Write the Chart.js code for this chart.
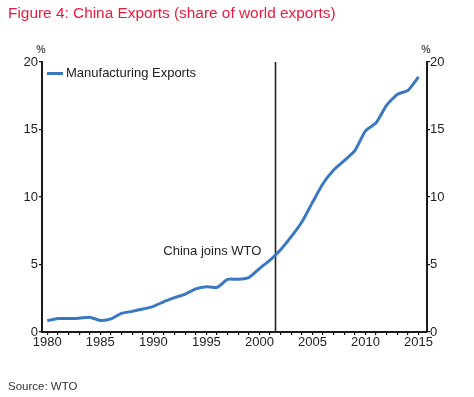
<!DOCTYPE html>
<html><head><meta charset="utf-8">
<script src="https://cdn.jsdelivr.net/npm/chart.js@4"></script>
<style>
html,body{margin:0;padding:0;background:#fff;width:474px;height:397px;overflow:hidden;font-family:"Liberation Sans",Arial,sans-serif}
#wrap{position:absolute;left:0;top:0;width:474px;height:397px}
#title{position:absolute;left:8px;top:5px;font-size:15.4px;line-height:16px;color:#e8193c;white-space:nowrap}
#source{position:absolute;left:8px;top:380px;font-size:11.5px;line-height:12px;color:#333;white-space:nowrap}
</style></head><body>
<div id="wrap"><canvas id="c" width="474" height="397"></canvas></div>
<div id="title">Figure 4: China Exports (share of world exports)</div>
<div id="source">Source: WTO</div>
<script>
const years = [1980,1981,1982,1983,1984,1985,1986,1987,1988,1989,1990,1991,1992,1993,1994,1995,1996,1997,1998,1999,2000,2001,2002,2003,2004,2005,2006,2007,2008,2009,2010,2011,2012,2013,2014,2015];
const manufacturingExports = [0.84,1.0,1.0,1.02,1.1,0.86,0.97,1.38,1.53,1.7,1.9,2.25,2.54,2.81,3.2,3.36,3.3,3.9,3.9,4.03,4.7,5.33,6.1,7.06,8.15,9.6,11.0,12.0,12.7,13.43,14.9,15.5,16.8,17.6,17.9,18.9];
const seriesLabel = 'Manufacturing Exports';
const yTickValues = [0,5,10,15,20];
const xTickLabels = [1980,1985,1990,1995,2000,2005,2010,2015];
const wtoYear = 2001.5;
const wtoLabel = 'China joins WTO';
const unitLabel = '%';

const FONT = '"Liberation Sans", Arial, sans-serif';
const BLUE = '#3b78c2';

const annot = {
  id: 'annot',
  beforeDatasetsDraw(chart) {
    const {ctx, chartArea: a, scales: {x}} = chart;
    const px = Math.round(x.getPixelForValue(wtoYear)) + 0.5;
    ctx.save();
    ctx.strokeStyle = '#222';
    ctx.lineWidth = 1.6;
    ctx.beginPath(); ctx.moveTo(px, a.top); ctx.lineTo(px, a.bottom); ctx.stroke();
    ctx.restore();
  },
  afterDraw(chart) {
    const {ctx, chartArea: a, scales: {x, y}} = chart;
    ctx.save();
    const px = x.getPixelForValue(wtoYear);
    ctx.font = '13px ' + FONT;
    ctx.fillStyle = '#222';
    ctx.textAlign = 'right';
    ctx.textBaseline = 'middle';
    ctx.fillText(wtoLabel, px - 14, y.getPixelForValue(6));
    ctx.font = 'bold 10.5px ' + FONT;
    ctx.fillStyle = '#555';
    ctx.textAlign = 'center';
    ctx.fillText(unitLabel, a.left - 1, a.top - 12);
    ctx.fillText(unitLabel, a.right - 1, a.top - 12);
    const ly = a.top + 11.5;
    ctx.strokeStyle = BLUE; ctx.lineWidth = 3;
    ctx.beginPath(); ctx.moveTo(a.left + 5, ly); ctx.lineTo(a.left + 21, ly); ctx.stroke();
    ctx.font = '13px ' + FONT;
    ctx.fillStyle = '#222';
    ctx.textAlign = 'left';
    ctx.fillText(chart.data.datasets[0].label, a.left + 24, ly);
    ctx.restore();
  }
};

const axisCommon = (pos, width, pad) => ({
  position: pos,
  min: 0, max: 20,
  afterFit(s) { s.width = width; },
  afterBuildTicks(s) { s.ticks = yTickValues.map(v => ({value: v})); },
  ticks: { stepSize: 5, padding: pad, color: '#222', font: {size: 13, family: FONT} },
  grid: { drawOnChartArea: false, drawTicks: true, tickLength: 3, color: '#111', lineWidth: 1.2 },
  border: { display: true, color: '#1a1a1a', width: 2 }
});

new Chart(document.getElementById('c'), {
  type: 'line',
  data: {
    datasets: [{
      label: seriesLabel,
      data: years.map((yr, i) => ({x: yr, y: manufacturingExports[i]})),
      borderColor: BLUE,
      borderWidth: 3,
      pointRadius: 0,
      tension: 0.2,
      fill: false
    }]
  },
  options: {
    responsive: false,
    animation: false,
    devicePixelRatio: 1,
    layout: { padding: { top: 62, left: 0, right: 0, bottom: 0 } },
    plugins: { legend: { display: false }, tooltip: { enabled: false }, title: { display: false } },
    scales: {
      x: {
        type: 'linear',
        min: 1979.5, max: 2015.8,
        afterFit(s) { s.height = 65; },
        ticks: {
          stepSize: 1, includeBounds: false, autoSkip: false, maxRotation: 0, padding: 0,
          color: '#222', font: {size: 13, family: FONT},
          callback: v => xTickLabels.includes(v) ? String(v) : ''
        },
        grid: { drawOnChartArea: false, drawTicks: true, tickLength: 3, color: '#111', lineWidth: 1.2 },
        border: { display: true, color: '#1a1a1a', width: 2 }
      },
      y: axisCommon('left', 42, 1),
      y2: axisCommon('right', 47, 0)
    }
  },
  plugins: [annot]
});
</script>
</body></html>
